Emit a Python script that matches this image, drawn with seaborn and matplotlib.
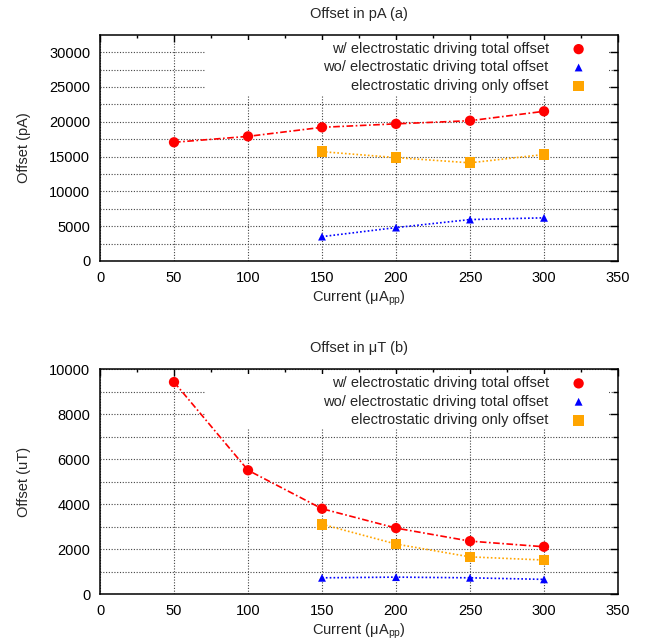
import matplotlib
matplotlib.use('Agg')
import matplotlib.pyplot as plt
from matplotlib.patches import Rectangle
import seaborn as sns
import pandas as pd

# values
current = [50, 100, 150, 200, 250, 300]
current_sub = [150, 200, 250, 300]
pa_with = [17050, 17900, 19200, 19700, 20150, 21500]
pa_without = [3500, 4800, 5950, 6200]
pa_only = [15700, 14850, 14100, 15300]
ut_with = [9420, 5500, 3790, 2930, 2350, 2100]
ut_without = [720, 750, 720, 650]
ut_only = [3100, 2220, 1650, 1510]

labels = ['w/ electrostatic driving total offset',
          'wo/ electrostatic driving total offset',
          'electrostatic driving only offset']
colors = ['#ff0000', '#0000ff', '#ffa500']
markers = ['o', '^', 's']
sizes = [55, 32, 60]
styles = [(0, (4, 1.5, 1, 1.5)), (0, (1, 1.3)), (0, (1, 1.3))]

FS = 10.5

sns.set_theme(style='white')
plt.rcParams['font.family'] = ['Liberation Sans', 'DejaVu Sans']
plt.rcParams['mathtext.default'] = 'regular'
plt.rcParams['font.size'] = FS

panels = [
    ('Offset in pA (a)', 'Offset (pA)', pa_with, pa_without, pa_only, 32500, 5000, 2500),
    ('Offset in \u03bcT (b)', 'Offset (uT)', ut_with, ut_without, ut_only, 10000, 2000, 1000),
]

fig = plt.figure(figsize=(6.46, 6.43), dpi=100)
axes = [fig.add_axes([0.1548, 0.5941, 0.8019, 0.3519]),
        fig.add_axes([0.1548, 0.0762, 0.8019, 0.3499])]

for ax, (title, ylab, y_with, y_without, y_only, ymax, ymaj, ymin) in zip(axes, panels):
    series = [(current, y_with), (current_sub, y_without), (current_sub, y_only)]
    for (xs, ys), lab, col, mk, sz, ls in zip(series, labels, colors, markers, sizes, styles):
        df = pd.DataFrame({'x': xs, 'y': ys})
        sns.lineplot(data=df, x='x', y='y', ax=ax, color=col, linestyle=ls, linewidth=1.2, zorder=2)
        sns.scatterplot(data=df, x='x', y='y', ax=ax, color=col, marker=mk, s=sz,
                        edgecolor='none', label=lab, zorder=3)

    ax.set_xlim(0, 350)
    ax.set_ylim(0, ymax)
    ax.set_xticks(range(0, 351, 50))
    ax.set_xticks(range(25, 350, 50), minor=True)
    ax.set_yticks(range(0, ymax + 1, ymaj))
    ax.set_yticks(range(ymin, ymax, ymaj), minor=True)
    ax.tick_params(which='both', direction='in', top=True, right=True, colors='black', labelsize=FS)
    ax.tick_params(axis='x', which='major', length=5, width=1, pad=7)
    ax.tick_params(axis='x', which='minor', length=2.5, width=1)
    ax.tick_params(axis='y', which='major', length=6, width=1, pad=7)
    ax.tick_params(axis='y', which='minor', length=3.5, width=1)
    ax.set_axisbelow(True)
    ax.xaxis.grid(True, which='major', color='#444444', linestyle=(0, (1, 1.5)), linewidth=0.8)
    ax.yaxis.grid(True, which='both', color='#444444', linestyle=(0, (1, 1.5)), linewidth=0.8)
    for sp in ax.spines.values():
        sp.set_linewidth(1.1)
        sp.set_color('black')

    # opaque key area hides the grid like gnuplot does
    ax.add_patch(Rectangle((0.203, 0.735), 0.78, 0.243, transform=ax.transAxes,
                           facecolor='white', edgecolor='none', zorder=1))

    ax.set_title(title, fontsize=FS, pad=12)
    ax.set_xlabel('Current (\u03bcA$_{pp}$)', fontsize=FS, labelpad=3)
    ax.set_ylabel(ylab, fontsize=FS, labelpad=13)
    ax.legend(loc='upper right', bbox_to_anchor=(0.938, 0.968), frameon=False, markerfirst=False,
              handlelength=1.0, handletextpad=1.55, borderpad=0, borderaxespad=0,
              labelspacing=0.3, fontsize=FS)

fig.savefig('out.png', dpi=100)
